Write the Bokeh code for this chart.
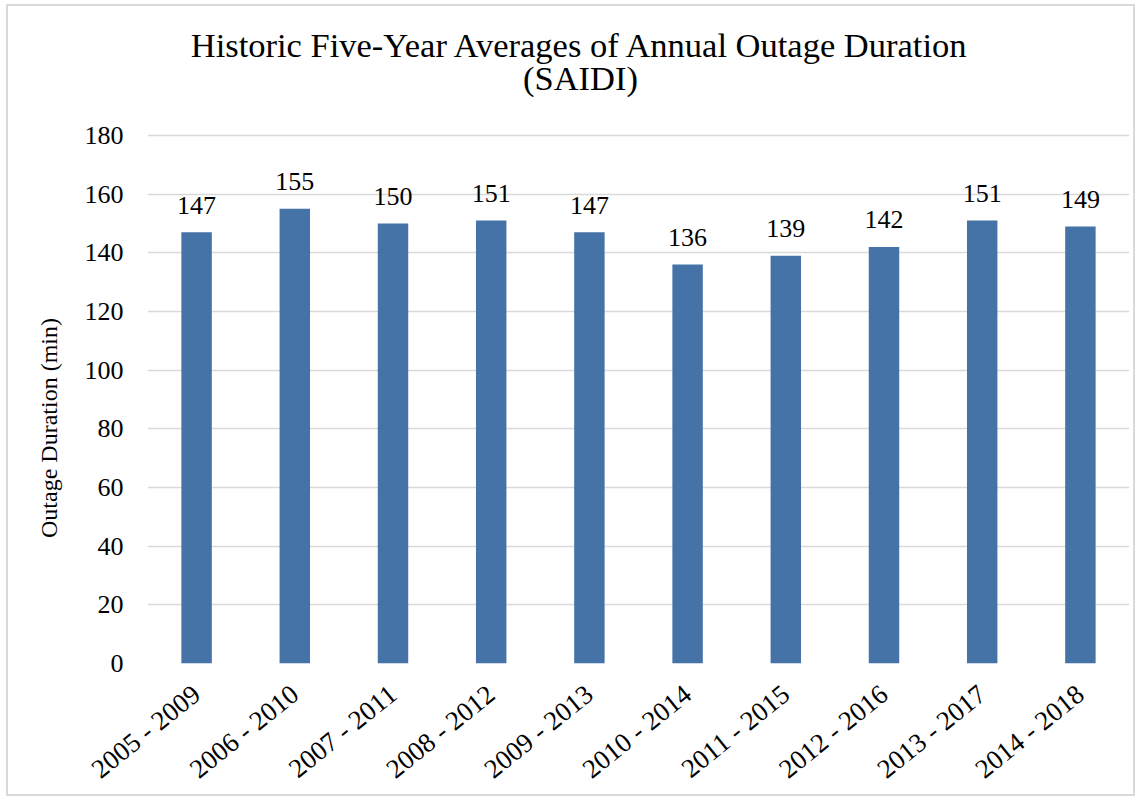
from bokeh.plotting import figure
from bokeh.models import ColumnDataSource, Range1d, FactorRange, Label, FixedTicker
from bokeh.embed import file_html
from bokeh.resources import INLINE
from bokeh.core.properties import value

periods = ["2005 - 2009", "2006 - 2010", "2007 - 2011", "2008 - 2012", "2009 - 2013",
           "2010 - 2014", "2011 - 2015", "2012 - 2016", "2013 - 2017", "2014 - 2018"]
saidi = [147, 155, 150, 151, 147, 136, 139, 142, 151, 149]
y_ticks = [0, 20, 40, 60, 80, 100, 120, 140, 160, 180]
title_lines = ["Historic Five-Year Averages of Annual Outage Duration", "(SAIDI)"]
y_label = "Outage Duration (min)"

FONT = "Liberation Serif"
W, H = 1129, 792   # border-box: canvas is 1125 x 788
MB_BOTTOM = 131
FRAME_H = (H - 4) - MB_BOTTOM          # frame spans from the canvas top
Y_MAX = 180 * FRAME_H / 528.0          # 180 sits 528 px above the baseline; room above holds the title

src = ColumnDataSource(dict(x=periods, y=saidi, t=[str(v) for v in saidi]))

p = figure(x_range=FactorRange(*periods, range_padding=0), y_range=Range1d(0, Y_MAX),
           width=W, height=H, output_backend="svg", toolbar_location=None,
           min_border_left=139, min_border_right=8, min_border_top=0, min_border_bottom=MB_BOTTOM)
p.styles = {"border": "2px solid #d9d9d9", "margin-left": "6px", "margin-top": "4px"}
p.outline_line_color = None
p.background_fill_color = "white"
p.title.text = ""

p.vbar(x="x", top="y", width=0.31, source=src, fill_color="#4572A7", line_color=None)
p.text(x="x", y="y", text="t", source=src, text_align="center", text_baseline="alphabetic",
       y_offset=-27, text_font=value(FONT), text_font_size="26px", text_color="black")

p.xgrid.grid_line_color = None
p.ygrid.grid_line_color = "#d9d9d9"
p.ygrid.grid_line_width = 1.5
p.yaxis.ticker = FixedTicker(ticks=y_ticks)

for ax in (p.xaxis, p.yaxis):
    ax.axis_line_color = None
    ax.major_tick_line_color = None
    ax.minor_tick_line_color = None
    ax.major_tick_out = 0
    ax.major_tick_in = 0
    ax.major_label_text_font = FONT
    ax.major_label_text_color = "black"

p.yaxis.major_label_text_font_size = "26px"
p.yaxis.major_label_standoff = 24
# trailing no-break spaces move the visible label down to the centre of the 0-180 span
p.yaxis.axis_label = y_label + "\u00a0" * 31
p.yaxis.axis_label_text_font = FONT
p.yaxis.axis_label_text_font_size = "24px"
p.yaxis.axis_label_text_font_style = "normal"
p.yaxis.axis_label_text_color = "black"
p.yaxis.axis_label_standoff = 20

p.xaxis.major_label_text_font_size = "27px"
p.xaxis.major_label_orientation = 0.68
p.xaxis.major_label_standoff = 27

# title lines inside the (extended) frame; screen units are frame-relative
FL, FB = 147, 663
for txt, base in zip(title_lines, [44, 77]):
    p.add_layout(Label(x=580 - FL, y=FB - base, x_units="screen", y_units="screen", text=txt,
                       text_align="center", text_baseline="alphabetic", text_font=FONT,
                       text_font_size="34.5px", text_color="black"))

open("out.html", "w").write(file_html(p, INLINE))
